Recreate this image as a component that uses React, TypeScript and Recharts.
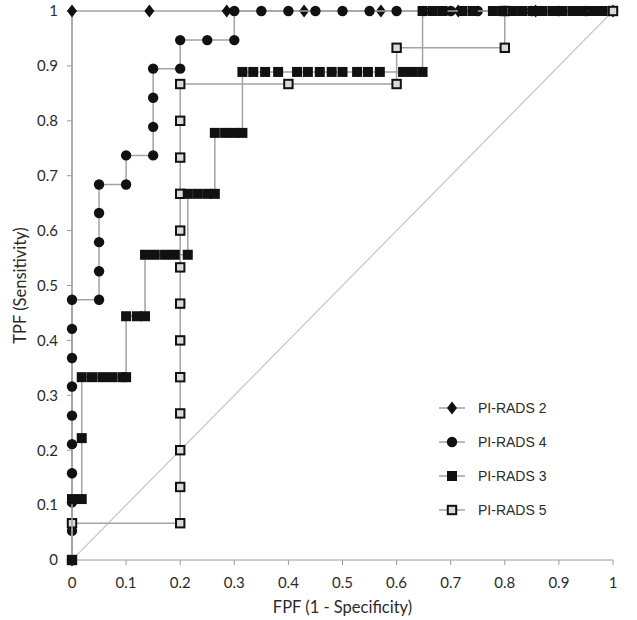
import { Label, Legend, ReferenceLine, Scatter, ScatterChart, XAxis, YAxis } from "recharts";

const TICKS = [0, 0.1, 0.2, 0.3, 0.4, 0.5, 0.6, 0.7, 0.8, 0.9, 1];

// [FPF, TPF]
const PIRADS2: [number, number][] = [
  [0, 0], [0, 1], [0.143, 1], [0.286, 1], [0.429, 1], [0.571, 1], [0.714, 1], [0.857, 1], [1, 1],
];

const PIRADS4: [number, number][] = [
  [0, 0], [0, 0.053], [0, 0.105], [0, 0.158], [0, 0.211], [0, 0.263], [0, 0.316], [0, 0.368],
  [0, 0.421], [0, 0.474], [0.05, 0.474], [0.05, 0.526], [0.05, 0.579], [0.05, 0.632], [0.05, 0.684],
  [0.1, 0.684], [0.1, 0.737], [0.15, 0.737], [0.15, 0.789], [0.15, 0.842], [0.15, 0.895],
  [0.2, 0.895], [0.2, 0.947], [0.25, 0.947], [0.3, 0.947], [0.3, 1], [0.35, 1], [0.4, 1],
  [0.45, 1], [0.5, 1], [0.55, 1], [0.6, 1], [0.65, 1], [0.7, 1], [0.75, 1], [0.8, 1], [0.85, 1],
  [0.9, 1], [0.95, 1], [1, 1],
];

const PIRADS3: [number, number][] = [
  [0, 0], [0, 0.111], [0.018, 0.111], [0.018, 0.222], [0.018, 0.333], [0.037, 0.333],
  [0.056, 0.333], [0.074, 0.333], [0.093, 0.333], [0.1, 0.333], [0.1, 0.444], [0.12, 0.444],
  [0.135, 0.444], [0.135, 0.556], [0.153, 0.556], [0.172, 0.556], [0.19, 0.556], [0.214, 0.556],
  [0.214, 0.667], [0.232, 0.667], [0.25, 0.667], [0.264, 0.667], [0.264, 0.778], [0.283, 0.778],
  [0.3, 0.778], [0.315, 0.778], [0.315, 0.889], [0.335, 0.889], [0.357, 0.889], [0.381, 0.889],
  [0.416, 0.889], [0.436, 0.889], [0.458, 0.889], [0.48, 0.889], [0.5, 0.889], [0.527, 0.889],
  [0.547, 0.889], [0.569, 0.889], [0.612, 0.889], [0.63, 0.889], [0.648, 0.889], [0.648, 1],
  [0.667, 1], [0.685, 1], [0.722, 1], [0.741, 1], [0.778, 1], [0.796, 1], [0.815, 1], [0.833, 1],
  [0.852, 1], [0.87, 1], [0.889, 1], [0.907, 1], [0.926, 1], [0.944, 1], [0.963, 1], [0.981, 1],
];

const PIRADS5: [number, number][] = [
  [0, 0], [0, 0.067], [0.2, 0.067], [0.2, 0.133], [0.2, 0.2], [0.2, 0.267], [0.2, 0.333],
  [0.2, 0.4], [0.2, 0.467], [0.2, 0.533], [0.2, 0.6], [0.2, 0.667], [0.2, 0.733], [0.2, 0.8],
  [0.2, 0.867], [0.4, 0.867], [0.6, 0.867], [0.6, 0.933], [0.8, 0.933], [0.8, 1], [1, 1],
];

type MarkerKind = "diamond" | "circle" | "square" | "open";

// legend order
const SERIES: { name: string; points: [number, number][]; marker: MarkerKind }[] = [
  { name: "PI-RADS 2", points: PIRADS2, marker: "diamond" },
  { name: "PI-RADS 4", points: PIRADS4, marker: "circle" },
  { name: "PI-RADS 3", points: PIRADS3, marker: "square" },
  { name: "PI-RADS 5", points: PIRADS5, marker: "open" },
];

// drawing order (filled squares end up on top at the origin)
const DRAW_ORDER = ["PI-RADS 2", "PI-RADS 4", "PI-RADS 5", "PI-RADS 3"];

const LINE = "#a3a3a3";
const INK = "#111";
const TEXT = "#2b2b2b";
const TICK_FONT = "Lato, 'Open Sans', sans-serif";

function Marker({ kind, cx, cy }: { kind: MarkerKind; cx: number; cy: number }) {
  if (kind === "diamond") {
    return <path d={`M${cx},${cy - 6.5}L${cx + 5},${cy}L${cx},${cy + 6.5}L${cx - 5},${cy}Z`} fill={INK} />;
  }
  if (kind === "circle") {
    return <circle cx={cx} cy={cy} r={5.2} fill={INK} />;
  }
  if (kind === "square") {
    return <rect x={cx - 5} y={cy - 5} width={10} height={10} fill={INK} />;
  }
  return (
    <rect x={cx - 4.2} y={cy - 4.2} width={8.4} height={8.4} fill="#dadada" stroke={INK} strokeWidth={2} />
  );
}

function RocLegend() {
  return (
    <div style={{ fontFamily: "'Liberation Sans', Arial, sans-serif", fontSize: 14, color: TEXT }}>
      {SERIES.map((s) => (
        <div key={s.name} style={{ display: "flex", alignItems: "center", height: 34 }}>
          <svg width={28} height={16}>
            <line x1={1} x2={27} y1={8} y2={8} stroke={LINE} strokeWidth={1.5} />
            <Marker kind={s.marker} cx={14} cy={8} />
          </svg>
          <span style={{ marginLeft: 12 }}>{s.name}</span>
        </div>
      ))}
    </div>
  );
}

export default function App() {
  const drawn = DRAW_ORDER.map((name) => SERIES.find((s) => s.name === name)!);

  return (
    <div style={{ position: "absolute", left: 0, top: 0, background: "#fff" }}>
      <ScatterChart width={637} height={620} margin={{ top: 11, right: 24, bottom: 0, left: 0 }}>
        <XAxis
          type="number"
          dataKey="x"
          domain={[0, 1]}
          ticks={TICKS}
          height={60}
          stroke="#9a9a9a"
          tickSize={5}
          tickMargin={12}
          tick={{ fill: TEXT, fontSize: 15, fontFamily: TICK_FONT }}
        >
          <Label
            content={(props: any) => {
              const vb = props.viewBox;
              return (
                <text
                  x={vb.x + vb.width / 2}
                  y={vb.y + 53}
                  textAnchor="middle"
                  fill={TEXT}
                  fontSize={16.5}
                  fontFamily={TICK_FONT}
                >
                  FPF (1 - Specificity)
                </text>
              );
            }}
          />
        </XAxis>
        <YAxis
          type="number"
          dataKey="y"
          domain={[0, 1]}
          ticks={TICKS}
          width={72}
          stroke="#9a9a9a"
          tickSize={5}
          tickMargin={9}
          tick={{ fill: TEXT, fontSize: 15, fontFamily: TICK_FONT }}
        >
          <Label
            content={(props: any) => {
              const vb = props.viewBox;
              const x = vb.x + 20;
              const y = vb.y + vb.height / 2;
              return (
                <text
                  x={x}
                  y={y}
                  transform={`rotate(-90 ${x} ${y})`}
                  textAnchor="middle"
                  dominantBaseline="central"
                  fill={TEXT}
                  fontSize={16.5}
                  fontFamily={TICK_FONT}
                >
                  TPF (Sensitivity)
                </text>
              );
            }}
          />
        </YAxis>
        <ReferenceLine
          segment={[{ x: 0, y: 0 }, { x: 1, y: 1 }]}
          stroke="#c6c6c6"
          strokeWidth={1.2}
          ifOverflow="visible"
        />
        {drawn.map((s) => (
          <Scatter
            key={s.name}
            name={s.name}
            data={s.points.map(([x, y]) => ({ x, y }))}
            line={{ stroke: LINE, strokeWidth: 1.5 }}
            lineType="joint"
            isAnimationActive={false}
            shape={(p: any) => <Marker kind={s.marker} cx={p.cx} cy={p.cy} />}
          />
        ))}
        <Legend
          layout="vertical"
          align="center"
          verticalAlign="middle"
          wrapperStyle={{ left: 438, top: 391, width: 140 }}
          content={() => <RocLegend />}
        />
      </ScatterChart>
    </div>
  );
}
